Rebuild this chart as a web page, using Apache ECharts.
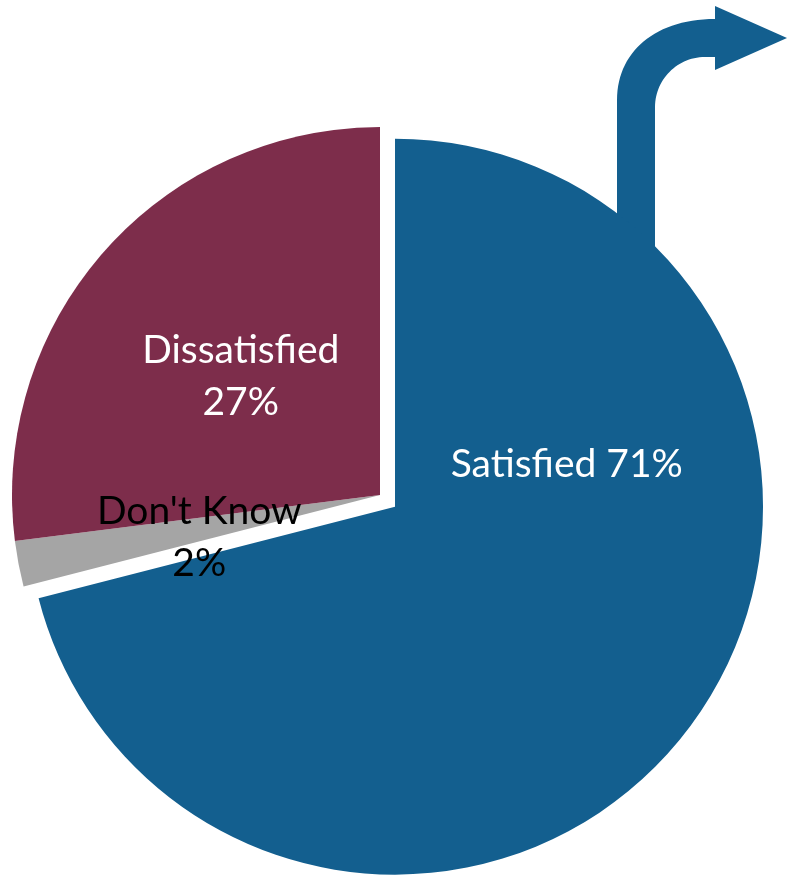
<!DOCTYPE html>
<html><head><meta charset="utf-8">
<script src="https://cdn.jsdelivr.net/npm/echarts@6/dist/echarts.min.js"></script>
<style>html,body{margin:0;padding:0;background:#fff}#c{width:787px;height:876px}</style>
</head><body><div id="c"></div>
<script>
const categories = ['Satisfied', "Don't Know", 'Dissatisfied'];
const values = [71, 2, 27];
const sliceColors = ['#135F8F', '#A5A5A5', '#7D2D4B'];
const labelColors = ['#ffffff', '#000000', '#ffffff'];
const labelSeparators = [' ', '\n', '\n'];
const labelOffsets = [[24, -157], [3, 7], [1, 5]];
const selectedSlice = [true, false, false];

function bez(p0, p1, p2, p3, n) {
  const pts = [];
  for (let i = 0; i <= n; i++) {
    const t = i / n, u = 1 - t;
    pts.push([
      u*u*u*p0[0] + 3*u*u*t*p1[0] + 3*u*t*t*p2[0] + t*t*t*p3[0],
      u*u*u*p0[1] + 3*u*u*t*p1[1] + 3*u*t*t*p2[1] + t*t*t*p3[1]
    ]);
  }
  return pts;
}
const arrowPts = [].concat(
  [[617, 320]],
  bez([617, 100], [617, 52], [655, 19], [715, 19], 30),
  [[715, 6], [787, 38], [715, 70], [715, 57]],
  bez([705, 57], [677, 57], [655, 80], [655, 107], 30),
  [[655, 320]]
);

const chart = echarts.init(document.getElementById('c'), null, {renderer: 'canvas'});
const data = categories.map((name, i) => ({
  name: name,
  value: values[i],
  selected: selectedSlice[i],
  itemStyle: {color: sliceColors[i]},
  label: {color: labelColors[i], offset: labelOffsets[i]},
  select: {label: {color: labelColors[i], offset: labelOffsets[i]}}
}));

chart.setOption({
  animation: false,
  backgroundColor: '#ffffff',
  graphic: [{
    type: 'polygon',
    z: -10,
    shape: {points: arrowPts},
    style: {fill: sliceColors[0]}
  }],
  series: [{
    type: 'pie',
    z: 10,
    center: [380, 495],
    radius: 368,
    startAngle: 90,
    clockwise: true,
    selectedMode: 'single',
    selectedOffset: 19,
    avoidLabelOverlap: false,
    silent: true,
    emphasis: {disabled: true},
    select: {itemStyle: {borderWidth: 0}},
    itemStyle: {borderWidth: 0},
    labelLine: {show: false},
    label: {
      show: true,
      position: 'inside',
      fontFamily: 'Lato',
      fontSize: 39,
      lineHeight: 52,
      align: 'center',
      formatter: function (p) {
        return p.name + labelSeparators[p.dataIndex] + p.value + '%';
      }
    },
    data: data
  }]
});
</script></body></html>
